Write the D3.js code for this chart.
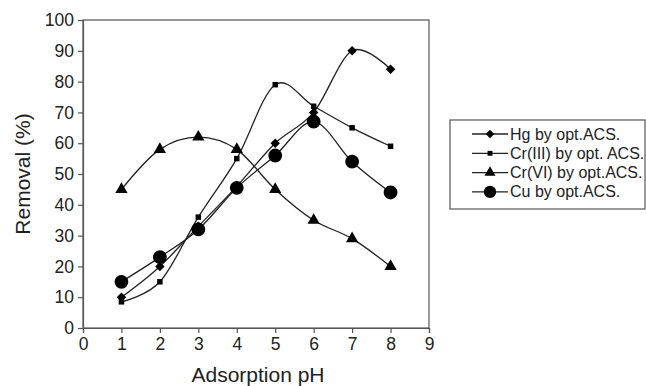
<!DOCTYPE html>
<html>
<head>
<meta charset="utf-8">
<script src="https://cdn.jsdelivr.net/npm/d3@7"></script>
<style>
  body { margin: 0; background: #fff; }
  text { font-family: "Liberation Sans", Arial, sans-serif; fill: #222; }
</style>
</head>
<body>
<div id="chart"></div>
<script>
var phValues = [1, 2, 3, 4, 5, 6, 7, 8];
var hgValues = [10, 20, 33, 46, 60, 70, 90, 84];
var cr3Values = [8.5, 15, 36, 55, 79, 72, 65, 59];
var cr6Values = [45, 58, 62, 58, 45, 35, 29, 20];
var cuValues = [15, 23, 32, 45.5, 56, 67, 54, 44];
var seriesNames = ["Hg by opt.ACS.", "Cr(III) by opt. ACS.", "Cr(VI) by opt.ACS.", "Cu by opt.ACS."];
var xTicks = [0, 1, 2, 3, 4, 5, 6, 7, 8, 9];
var yTicks = [0, 10, 20, 30, 40, 50, 60, 70, 80, 90, 100];

var series = [
  {name: seriesNames[0], values: hgValues, symbol: d3.symbolSquare, size: 45, rot: 45},
  {name: seriesNames[1], values: cr3Values, symbol: d3.symbolSquare, size: 30, rot: 0},
  {name: seriesNames[2], values: cr6Values, symbol: d3.symbolTriangle, size: 65, rot: 0},
  {name: seriesNames[3], values: cuValues, symbol: d3.symbolCircle, size: 150, rot: 0}
];

var margin = {top: 20, right: 217, bottom: 58, left: 83};
var width = 646 - margin.left - margin.right;
var height = 386 - margin.top - margin.bottom;

var svg = d3.select("#chart").append("svg")
  .attr("width", 646)
  .attr("height", 386);

var g = svg.append("g")
  .attr("transform", "translate(" + margin.left + "," + margin.top + ")");

var x = d3.scaleLinear().domain([0, 9]).range([0, width]);
var y = d3.scaleLinear().domain([0, 100]).range([height, 0]);

// frame
g.append("rect")
  .attr("width", width)
  .attr("height", height)
  .attr("fill", "none")
  .attr("stroke", "#555")
  .attr("stroke-width", 1.2);

var xAxis = g.append("g")
  .attr("transform", "translate(0," + height + ")")
  .call(d3.axisBottom(x).tickValues(xTicks).tickSize(5).tickPadding(5));
var yAxis = g.append("g")
  .call(d3.axisLeft(y).tickValues(yTicks).tickSize(5).tickPadding(4));

[xAxis, yAxis].forEach(function(a) {
  a.selectAll("path").attr("stroke", "#555").attr("stroke-width", 1.2);
  a.selectAll("line").attr("stroke", "#555").attr("stroke-width", 1.2);
  a.selectAll("text").attr("font-size", 17.5).attr("font-family", "Liberation Sans, Arial, sans-serif").attr("fill", "#222");
});

var line = d3.line()
  .x(function(d, i) { return x(phValues[i]); })
  .y(function(d) { return y(d); })
  .curve(d3.curveCatmullRom.alpha(0));

function markerTransform(s, px, py) {
  return "translate(" + px + "," + py + ") rotate(" + s.rot + ")";
}

series.forEach(function(s) {
  g.append("path")
    .datum(s.values)
    .attr("d", line)
    .attr("fill", "none")
    .attr("stroke", "#222")
    .attr("stroke-width", 1.3);
  g.selectAll(null)
    .data(s.values)
    .enter().append("path")
    .attr("d", d3.symbol().type(s.symbol).size(s.size))
    .attr("transform", function(d, i) { return markerTransform(s, x(phValues[i]), y(d)); })
    .attr("fill", "#000");
});

svg.append("text")
  .attr("x", margin.left + width / 2 + 2)
  .attr("y", 382)
  .attr("text-anchor", "middle")
  .attr("font-size", 21)
  .text("Adsorption pH");

svg.append("text")
  .attr("transform", "translate(30," + (margin.top + height / 2) + ") rotate(-90)")
  .attr("text-anchor", "middle")
  .attr("font-size", 21)
  .text("Removal (%)");

// legend
var legend = svg.append("g").attr("transform", "translate(450,120)");
legend.append("rect")
  .attr("width", 195)
  .attr("height", 89)
  .attr("fill", "#fff")
  .attr("stroke", "#555")
  .attr("stroke-width", 1.2);

series.forEach(function(s, i) {
  var row = legend.append("g").attr("transform", "translate(0," + (14 + i * 19.3) + ")");
  row.append("line")
    .attr("x1", 22).attr("x2", 58)
    .attr("stroke", "#222").attr("stroke-width", 1.3);
  row.append("path")
    .attr("d", d3.symbol().type(s.symbol).size(s.size * 0.8))
    .attr("transform", markerTransform(s, 40, 0))
    .attr("fill", "#000");
  row.append("text")
    .attr("x", 60)
    .attr("y", 5.5)
    .attr("font-size", 16)
    .text(s.name);
});
</script>
</body>
</html>
